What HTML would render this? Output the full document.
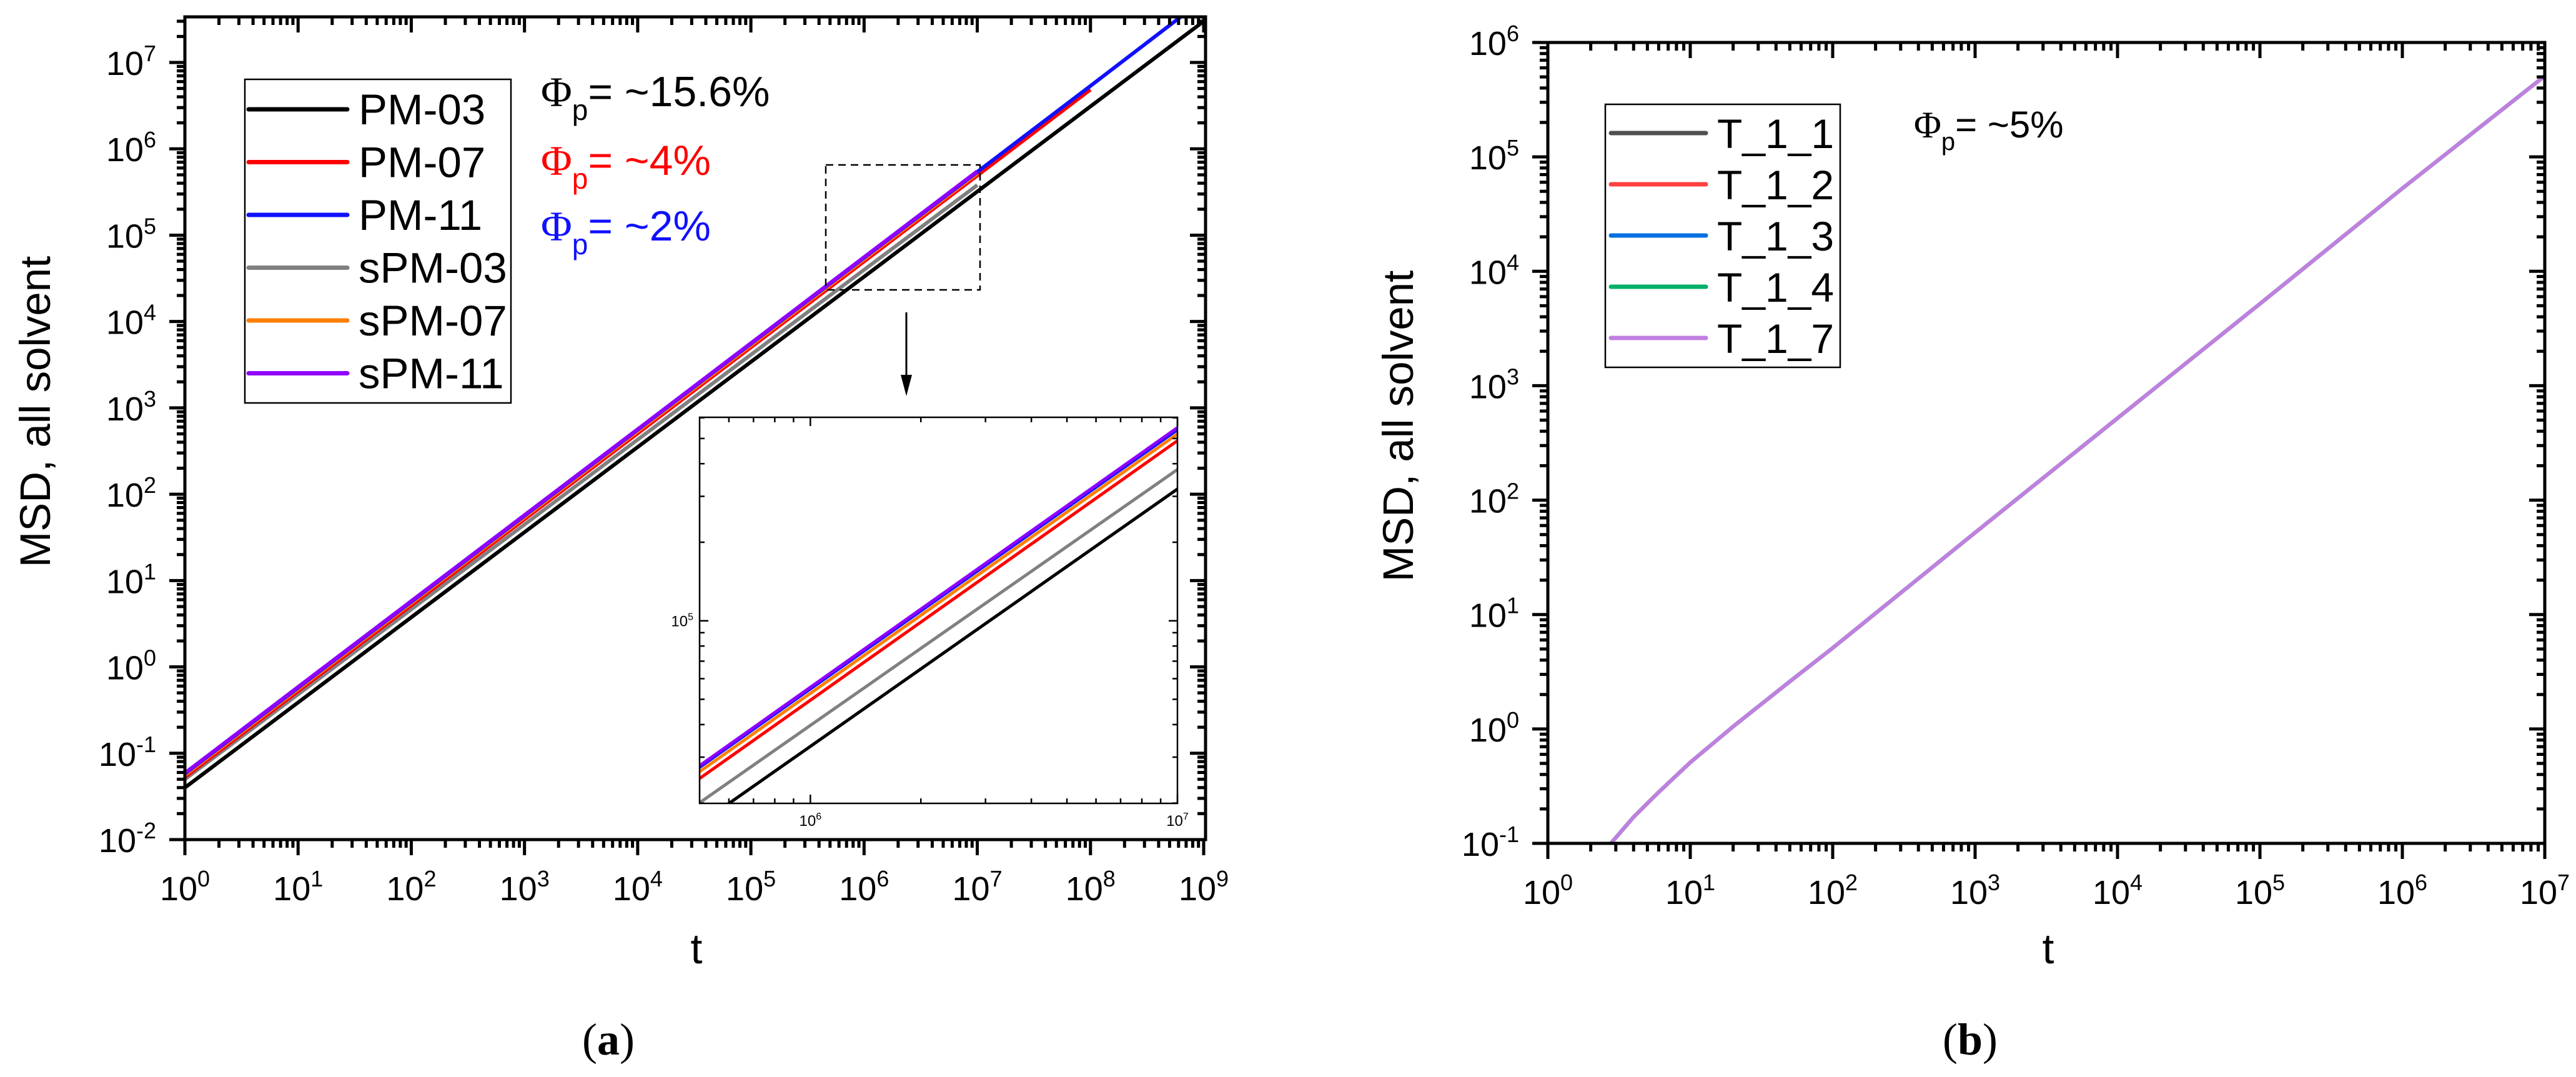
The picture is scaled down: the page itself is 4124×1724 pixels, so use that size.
<!DOCTYPE html>
<html><head><meta charset="utf-8"><style>
html,body{margin:0;padding:0;background:#fff;width:4124px;height:1724px;overflow:hidden;}
svg{display:block;font-family:"Liberation Sans",Arial,sans-serif;}
</style></head><body>
<svg id="fig" width="4124" height="1724" viewBox="0 0 4124 1724" xmlns="http://www.w3.org/2000/svg">
<rect x="0" y="0" width="4124" height="1724" fill="#fff"/>
<defs>
<clipPath id="clipA"><rect x="296" y="27" width="1634" height="1317"/></clipPath>
<clipPath id="clipI"><rect x="1120" y="668" width="765" height="618"/></clipPath>
<clipPath id="clipB"><rect x="2478" y="68" width="1596" height="1282"/></clipPath>
</defs>
<g id="panelA"></g>
<g id="panelB"></g>
</svg>
<script>
// ---------- Panel (a) data ----------
const tA = [1,10,100,1e3,1e4,1e5,1e6,1e7,1e8,1e9];
const namesA = ["PM-03","PM-07","PM-11","sPM-03","sPM-07","sPM-11"];
const colorsA = ["#000000","#ff0000","#1010ff","#808080","#ff8000","#8f00ff"];
const msdPM03 = [0.040,0.387,3.75,36.3,352,3410,33000,3.2e5,3.1e6,3.0e7];
const msdPM07 = [0.053,0.524,5.18,51.3,507,5020,49600,4.9e5,4.85e6];
const tPM11 = [1,10,100,1e3,1e4,1e5,1e6,1e7,1e8,6.5e8];
const msdPM11 = [0.058,0.575,5.69,56.4,558,5530,54800,5.4e5,5.35e6,3.5e7];
const msdSPM03 = [0.050,0.481,4.64,44.6,429,4130,39700,3.8e5];
const msdSPM07 = [0.056,0.554,5.48,54.3,537,5320,52700,5.2e5];
const msdSPM11 = [0.059,0.585,5.78,57.3,566,5610,55600,5.5e5];
const xTicksA = [0,1,2,3,4,5,6,7,8,9];
const yTicksA = [-2,-1,0,1,2,3,4,5,6,7];
// ---------- Panel (b) data ----------
const namesB = ["T_1_1","T_1_2","T_1_3","T_1_4","T_1_7"];
const colorsB = ["#505050","#ff4040","#0070e0","#00b06a","#c080e0"];
const tB = [2.77,4,6,10,20,50,100,1e3,1e4,1e5,1e6,1e7];
const msdB = [0.1,0.17,0.28,0.51,1.05,2.6,5.1,52,520,5200,5.3e4,5.1e5];
const xTicksB = [0,1,2,3,4,5,6,7];
const yTicksB = [-1,0,1,2,3,4,5,6];

const NS="http://www.w3.org/2000/svg";
function mk(tag,attrs,parent){const e=document.createElementNS(NS,tag);for(const k in attrs)e.setAttribute(k,attrs[k]);if(parent)parent.appendChild(e);return e;}
function logScale(d0,d1,p0,p1){return v=>p0+(Math.log10(v)-d0)/(d1-d0)*(p1-p0);}

function drawAxes(g,ax){
  const {L,R,T,B,xs,ys,xd,yd,xTicks,yTicks,big} = ax;
  const sw = big?5:2.5, maj = big?25:14, mnr = big?13:8;
  const frame = mk('rect',{x:L,y:T,width:R-L,height:B-T,fill:'none',stroke:'#000','stroke-width':sw},g);
  
  
  let d='';
  for(let e=Math.floor(xd[0]);e<=Math.ceil(xd[1]);e++){
    for(let m=1;m<10;m++){
      const lv=e+Math.log10(m); if(lv<xd[0]-1e-6||lv>xd[1]+1e-6)continue;
      const x=xs(Math.pow(10,lv)); const len=m===1?maj:mnr;
      if(big){d+=`M${x},${B}v${len}`;d+=`M${x},${T}v${len}`;}
      else{d+=`M${x},${B}v${-len}`;d+=`M${x},${T}v${len}`;}
    }
  }
  for(let e=Math.floor(yd[0]);e<=Math.ceil(yd[1]);e++){
    for(let m=1;m<10;m++){
      const lv=e+Math.log10(m); if(lv<yd[0]-1e-6||lv>yd[1]+1e-6)continue;
      const y=ys(Math.pow(10,lv)); const len=m===1?maj:mnr;
      if(big){d+=`M${L},${y}h${-len}`;d+=`M${R},${y}h${-len}`;}
      else{d+=`M${L},${y}h${len}`;d+=`M${R},${y}h${-len}`;}
    }
  }
  const tk=mk('path',{d:d,stroke:'#000','stroke-width':big?5:2.5,fill:'none'},g);
  
  
  const fs=big?54:24, sfs=big?36:16;
  xTicks.forEach(p=>{
    const t=mk('text',{x:xs(Math.pow(10,p)),y:big?B+97:B+36,'text-anchor':'middle','font-size':fs},g);
    
    
    t.appendChild(document.createTextNode('10'));
    const s=mk('tspan',{'font-size':sfs,dy:big?-22:-10},t); s.textContent=String(p);
  });
  yTicks.forEach(p=>{
    const t=mk('text',{x:big?L-46:L-10,y:ys(Math.pow(10,p))+(big?20:9),'text-anchor':'end','font-size':fs},g);
    
    
    t.appendChild(document.createTextNode('10'));
    const s=mk('tspan',{'font-size':sfs,dy:big?-22:-10},t); s.textContent=String(p);
  });
}
function drawLine(g,ts,vs,xs,ys,color,w,clip,name){
  const pts=ts.map((t,i)=>xs(t).toFixed(1)+','+ys(vs[i]).toFixed(1)).join(' ');
  const pl=mk('polyline',{points:pts,fill:'none',stroke:color,'stroke-width':w,'stroke-linejoin':'round','clip-path':`url(#${clip})`},g);
  
  
}

// ---------- Panel A ----------
const gA=document.getElementById('panelA');
const xA=logScale(0,9,296,1927), yA=logScale(-2,7,1344,100);
const seriesA=[[tA,msdPM03],[tA,msdPM07],[tPM11,msdPM11],[tA,msdSPM03],[tA,msdSPM07],[tA,msdSPM11]];
const orderA=[0,3,1,4,2,5];
orderA.forEach(i=>{const s=seriesA[i];drawLine(gA,s[0].slice(0,s[1].length),s[1],xA,yA,colorsA[i],6,'clipA','line-'+namesA[i].toLowerCase());});
drawAxes(gA,{L:296,R:1930,T:27,B:1344,xs:xA,ys:yA,xd:[0,9.017],yd:[-2,7.53],xTicks:xTicksA,yTicks:yTicksA,big:true});
const zb=mk('rect',{x:1322,y:264,width:247,height:200,fill:'none',stroke:'#000','stroke-width':2.5,'stroke-dasharray':'12,8'},gA);


const ar=mk('path',{d:'M1451,500V615',stroke:'#000','stroke-width':3},gA);


const ah=mk('path',{d:'M1442,600L1451,634L1460,600Z',fill:'#000'},gA);


const gI=mk('g',{},gA);


mk('rect',{x:1120,y:668,width:765,height:618,fill:'#fff'},gI);
const xI=logScale(5.7,7,1121,1885), yI=logScale(4.30,5.78,1286,668);
orderA.forEach(i=>{const s=seriesA[i];drawLine(gI,s[0].slice(0,s[1].length),s[1],xI,yI,colorsA[i],5,'clipI','inset-line-'+namesA[i].toLowerCase());});
drawAxes(gI,{L:1120,R:1885,T:668,B:1286,xs:xI,ys:yI,xd:[5.7,7],yd:[4.30,5.78],xTicks:[6,7],yTicks:[5],big:false});
const lgA=mk('g',{},gA);


mk('rect',{x:392,y:127,width:426,height:518,fill:'#fff',stroke:'#000','stroke-width':2.5},lgA);
namesA.forEach((n,i)=>{
  const y=175+i*84.5;
  const ln=mk('line',{x1:398,x2:556,y1:y,y2:y,stroke:colorsA[i],'stroke-width':7,'stroke-linecap':'round'},lgA);
  
  
  const t=mk('text',{x:574,y:y+24,'font-size':69},lgA);
  
  
  t.textContent=n;
});
const phiA=[["~15.6%","#000",170],["~4%","#ff0000",280],["~2%","#1010ff",385]];
phiA.forEach(p=>{
  const t=mk('text',{x:866,y:p[2],'font-size':68,fill:p[1]},gA);
  
  
  const a=mk('tspan',{'font-family':'Liberation Serif, serif'},t);a.textContent='Φ';
  const b=mk('tspan',{'font-size':46,dy:22},t);b.textContent='p';
  const c=mk('tspan',{dy:-22},t);c.textContent='= '+p[0];
});
const ytA=mk('text',{x:0,y:0,'font-size':69,'text-anchor':'middle',transform:'translate(80,659) rotate(-90)'},gA);


ytA.textContent='MSD, all solvent';
const xtA=mk('text',{x:1115,y:1542,'font-size':68,'text-anchor':'middle'},gA);


xtA.textContent='t';
const capA=mk('text',{x:974,y:1688,'font-size':72,'text-anchor':'middle','font-family':'Liberation Serif, serif'},gA);


capA.innerHTML='(<tspan font-weight="bold">a</tspan>)';

// ---------- Panel B ----------
const gB=document.getElementById('panelB');
const xB=logScale(0,7,2478,4074), yB=logScale(-1,6,1350,68);
colorsB.forEach((c,i)=>drawLine(gB,tB,msdB,xB,yB,c,6,'clipB','line-'+namesB[i].toLowerCase()));
drawAxes(gB,{L:2478,R:4074,T:68,B:1350,xs:xB,ys:yB,xd:[0,7],yd:[-1,6],xTicks:xTicksB,yTicks:yTicksB,big:true});
const lgB=mk('g',{},gB);


mk('rect',{x:2570,y:167,width:376,height:421,fill:'#fff',stroke:'#000','stroke-width':2.5},lgB);
namesB.forEach((n,i)=>{
  const y=213+i*82;
  const ln=mk('line',{x1:2579,x2:2731,y1:y,y2:y,stroke:colorsB[i],'stroke-width':7,'stroke-linecap':'round'},lgB);
  
  
  const t=mk('text',{x:2749,y:y+24,'font-size':66},lgB);
  
  
  t.textContent=n;
});
const phB=mk('text',{x:3064,y:220,'font-size':60},gB);


phB.innerHTML='<tspan font-family="Liberation Serif, serif">Φ</tspan><tspan font-size="40" dy="20">p</tspan><tspan dy="-20">= ~5%</tspan>';
const ytB=mk('text',{x:0,y:0,'font-size':69,'text-anchor':'middle',transform:'translate(2262,682) rotate(-90)'},gB);


ytB.textContent='MSD, all solvent';
const xtB=mk('text',{x:3279,y:1542,'font-size':68,'text-anchor':'middle'},gB);


xtB.textContent='t';
const capB=mk('text',{x:3154,y:1688,'font-size':72,'text-anchor':'middle','font-family':'Liberation Serif, serif'},gB);


capB.innerHTML='(<tspan font-weight="bold">b</tspan>)';
</script>
</body></html>
